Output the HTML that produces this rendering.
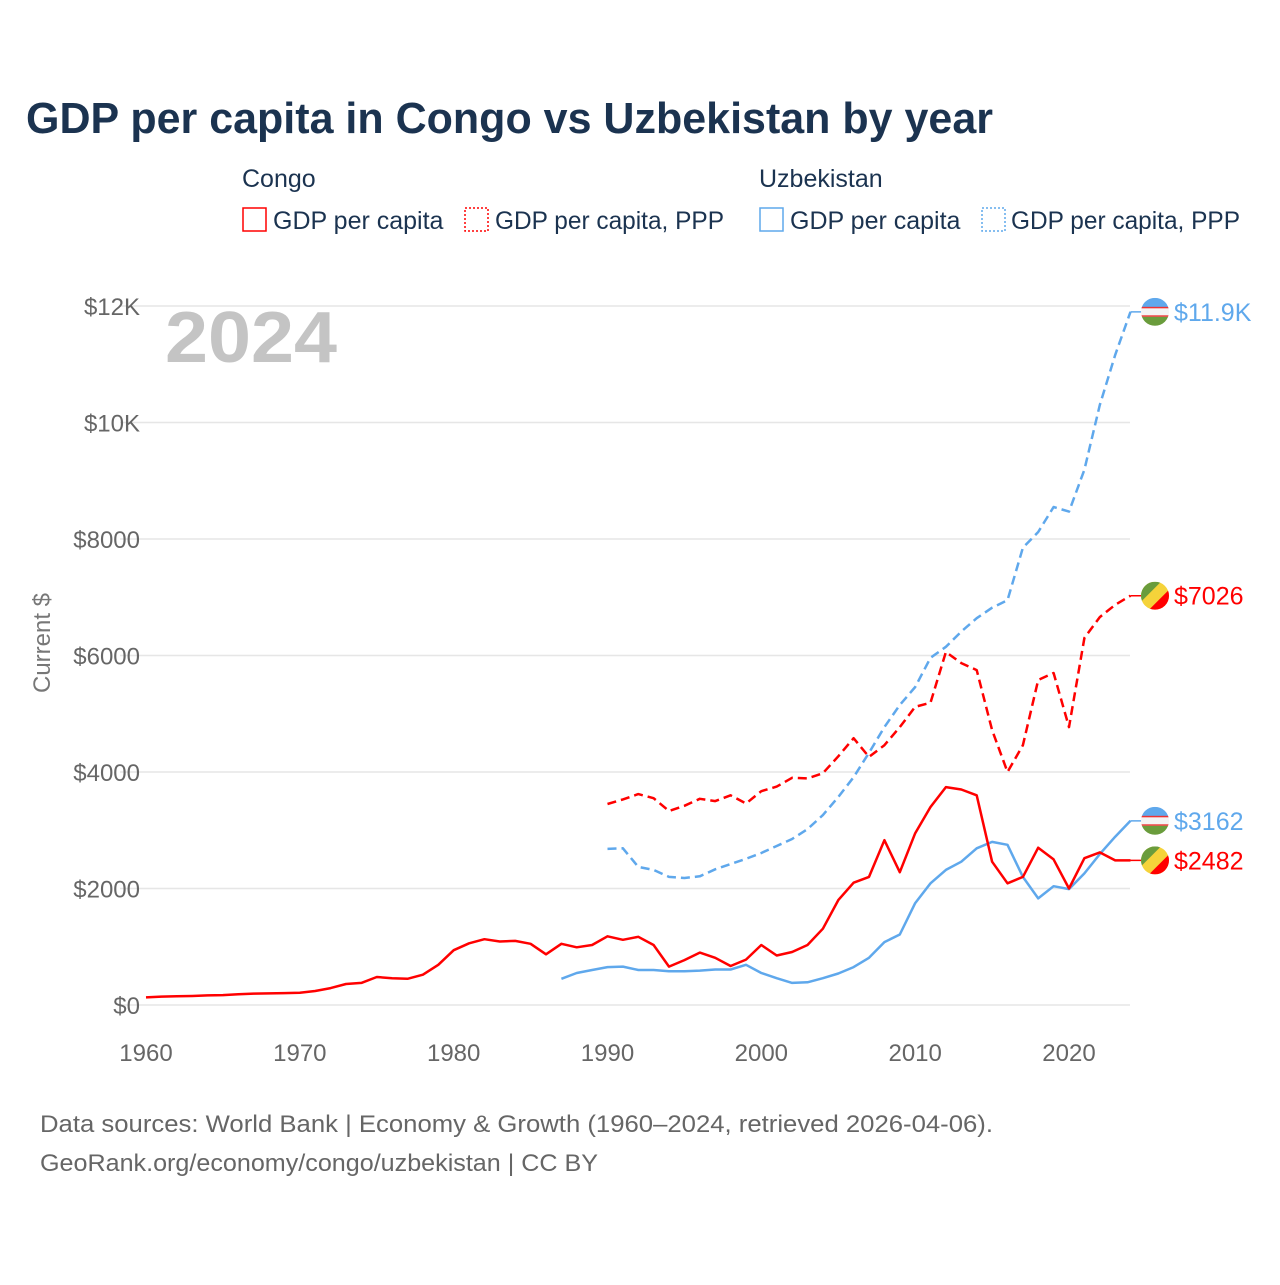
<!DOCTYPE html>
<html><head><meta charset="utf-8">
<style>
body{margin:0;background:#fff;font-family:"Liberation Sans",sans-serif;}
svg text{font-family:"Liberation Sans",sans-serif;}
</style></head>
<body>
<svg id="chart" width="1280" height="1280" xmlns="http://www.w3.org/2000/svg">
<rect width="1280" height="1280" fill="#fff"/>
<text x="26" y="133" font-size="44" font-weight="bold" fill="#1b3350" textLength="967" lengthAdjust="spacingAndGlyphs">GDP per capita in Congo vs Uzbekistan by year</text>
<g font-size="25" fill="#1b3350">
<text x="242" y="187">Congo</text>
<text x="759" y="187">Uzbekistan</text>
<g><rect x="243" y="208" width="23" height="23" fill="none" stroke="#f00" stroke-width="1.5"/><text x="273" y="229">GDP per capita</text></g>
<g><rect x="465" y="208" width="23" height="23" fill="none" stroke="#f00" stroke-width="1.5" stroke-dasharray="2,2"/><text x="495" y="229" textLength="229" lengthAdjust="spacingAndGlyphs">GDP per capita, PPP</text></g>
<g><rect x="760" y="208" width="23" height="23" fill="none" stroke="#5fa8ec" stroke-width="1.5"/><text x="790" y="229">GDP per capita</text></g>
<g><rect x="982" y="208" width="23" height="23" fill="none" stroke="#5fa8ec" stroke-width="1.5" stroke-dasharray="2,2"/><text x="1011" y="229" textLength="229" lengthAdjust="spacingAndGlyphs">GDP per capita, PPP</text></g>
</g>
<text x="165" y="362" font-size="72" font-weight="bold" fill="#c4c4c4" textLength="172" lengthAdjust="spacingAndGlyphs">2024</text>
<text transform="translate(50,643) rotate(-90)" text-anchor="middle" font-size="24" fill="#777">Current $</text>
<g id="grid"></g><g id="series"></g><g id="ends"></g>
<text x="40" y="1132" font-size="24" fill="#666" textLength="953" lengthAdjust="spacingAndGlyphs">Data sources: World Bank | Economy &amp; Growth (1960–2024, retrieved 2026-04-06).</text>
<text x="40" y="1171" font-size="24" fill="#666" textLength="558" lengthAdjust="spacingAndGlyphs">GeoRank.org/economy/congo/uzbekistan | CC BY</text>
</svg>
<script>
const yTicks=[0,2000,4000,6000,8000,10000,12000];
const yTickLabels=["$0","$2000","$4000","$6000","$8000","$10K","$12K"];
const xTicks=[1960,1970,1980,1990,2000,2010,2020];
const congoGdpStart=1960;
const congoGdp=[130,145,150,155,165,170,185,195,200,205,210,240,290,360,380,480,460,450,520,690,940,1060,1130,1090,1100,1050,870,1050,990,1030,1180,1120,1170,1030,660,770,900,810,670,780,1030,850,910,1030,1310,1800,2100,2200,2830,2280,2950,3400,3740,3700,3600,2460,2090,2200,2700,2500,2000,2520,2620,2482,2482];
const congoPppStart=1990;
const congoPpp=[3450,3530,3620,3550,3330,3420,3540,3500,3600,3460,3670,3750,3900,3890,3980,4270,4580,4260,4460,4770,5120,5190,6060,5870,5750,4720,4000,4460,5580,5700,4770,6300,6660,6870,7026];
const uzGdpStart=1987;
const uzGdp=[450,550,600,650,660,600,600,580,580,590,610,610,690,550,460,380,390,460,540,650,810,1080,1210,1750,2090,2320,2460,2690,2800,2750,2200,1830,2040,1990,2260,2590,2890,3162];
const uzPppStart=1990;
const uzPpp=[2680,2690,2370,2320,2200,2180,2210,2330,2420,2510,2610,2730,2850,3020,3260,3570,3910,4330,4770,5150,5460,5960,6150,6410,6640,6820,6950,7850,8120,8550,8470,9190,10300,11160,11900];
const endLabels=["$7026","$2482","$11.9K","$3162"];

const NS="http://www.w3.org/2000/svg";
const X=yr=>146+(yr-1960)*(1069-146)/60;
const Y=v=>1005-v*(1005-306)/12000;
function mk(tag,attrs,parent){const e=document.createElementNS(NS,tag);for(const k in attrs)e.setAttribute(k,attrs[k]);parent.appendChild(e);return e;}
const grid=document.getElementById('grid');
yTicks.forEach((t,i)=>{
  const l=mk('line',{x1:120,x2:1130,y1:Y(t),y2:Y(t),stroke:'#e6e6e6','stroke-width':1.5},grid);
  
  
  const tx=mk('text',{x:140,y:Y(t)+9,'text-anchor':'end','font-size':24,fill:'#666'},grid);
  tx.textContent=yTickLabels[i];
  
  
});
xTicks.forEach(t=>{
  const tx=mk('text',{x:X(t),y:1061,'text-anchor':'middle','font-size':24,fill:'#666'},grid);
  tx.textContent=t;
  
  
});
const ser=document.getElementById('series');
function line(vals,start,color,dash,name){
  const d=vals.map((v,i)=>(i?'L':'M')+X(start+i).toFixed(1)+','+Y(v).toFixed(1)).join('');
  const p=mk('path',{d:d,fill:'none',stroke:color,'stroke-width':2.5,'stroke-linejoin':'round'},ser);
  if(dash)p.setAttribute('stroke-dasharray','9,5');
  
  
}
line(uzPpp,uzPppStart,'#5fa8ec',true,'line-uzbekistan-ppp');
line(congoPpp,congoPppStart,'#f00',true,'line-congo-ppp');
line(uzGdp,uzGdpStart,'#5fa8ec',false,'line-uzbekistan-gdp');
line(congoGdp,congoGdpStart,'#f00',false,'line-congo-gdp');
const ends=document.getElementById('ends');
const endVals=[[congoPpp[congoPpp.length-1],'congo','#f00'],[congoGdp[congoGdp.length-1],'congo','#f00'],[uzPpp[uzPpp.length-1],'uz','#5fa8ec'],[uzGdp[uzGdp.length-1],'uz','#5fa8ec']];
endVals.forEach((e,i)=>{
  const y=Y(e[0]),cx=1155;
  const g=mk('g',{},ends);
  
  
  mk('line',{x1:X(2024),x2:cx,y1:y,y2:y,stroke:e[2],'stroke-width':1.5},g);
  const id='c'+i;
  const cp=mk('clipPath',{id:id},g);mk('circle',{cx:cx,cy:y,r:14},cp);
  const f=mk('g',{'clip-path':'url(#'+id+')'},g);
  if(e[1]==='uz'){
    mk('rect',{x:cx-14,y:y-14,width:28,height:10,fill:'#5fa8ec'},f);
    mk('rect',{x:cx-14,y:y-4,width:28,height:8,fill:'#f4f4f4'},f);
    mk('rect',{x:cx-14,y:y-5,width:28,height:1.5,fill:'#e33'},f);
    mk('rect',{x:cx-14,y:y+3.5,width:28,height:1.5,fill:'#e33'},f);
    mk('rect',{x:cx-14,y:y+5,width:28,height:9,fill:'#6a9c3c'},f);
  }else{
    mk('rect',{x:cx-14,y:y-14,width:28,height:28,fill:'#f5d33a'},f);
    mk('path',{d:`M${cx-14},${y-14}L${cx+6},${y-14}L${cx-14},${y+6}Z`,fill:'#6a9c3c'},f);
    mk('path',{d:`M${cx+14},${y+14}L${cx-6},${y+14}L${cx+14},${y-6}Z`,fill:'#f00'},f);
  }
  const t=mk('text',{x:1174,y:y+9,'font-size':25,fill:e[2]},g);
  t.textContent=endLabels[i];
});
</script>
</body></html>
